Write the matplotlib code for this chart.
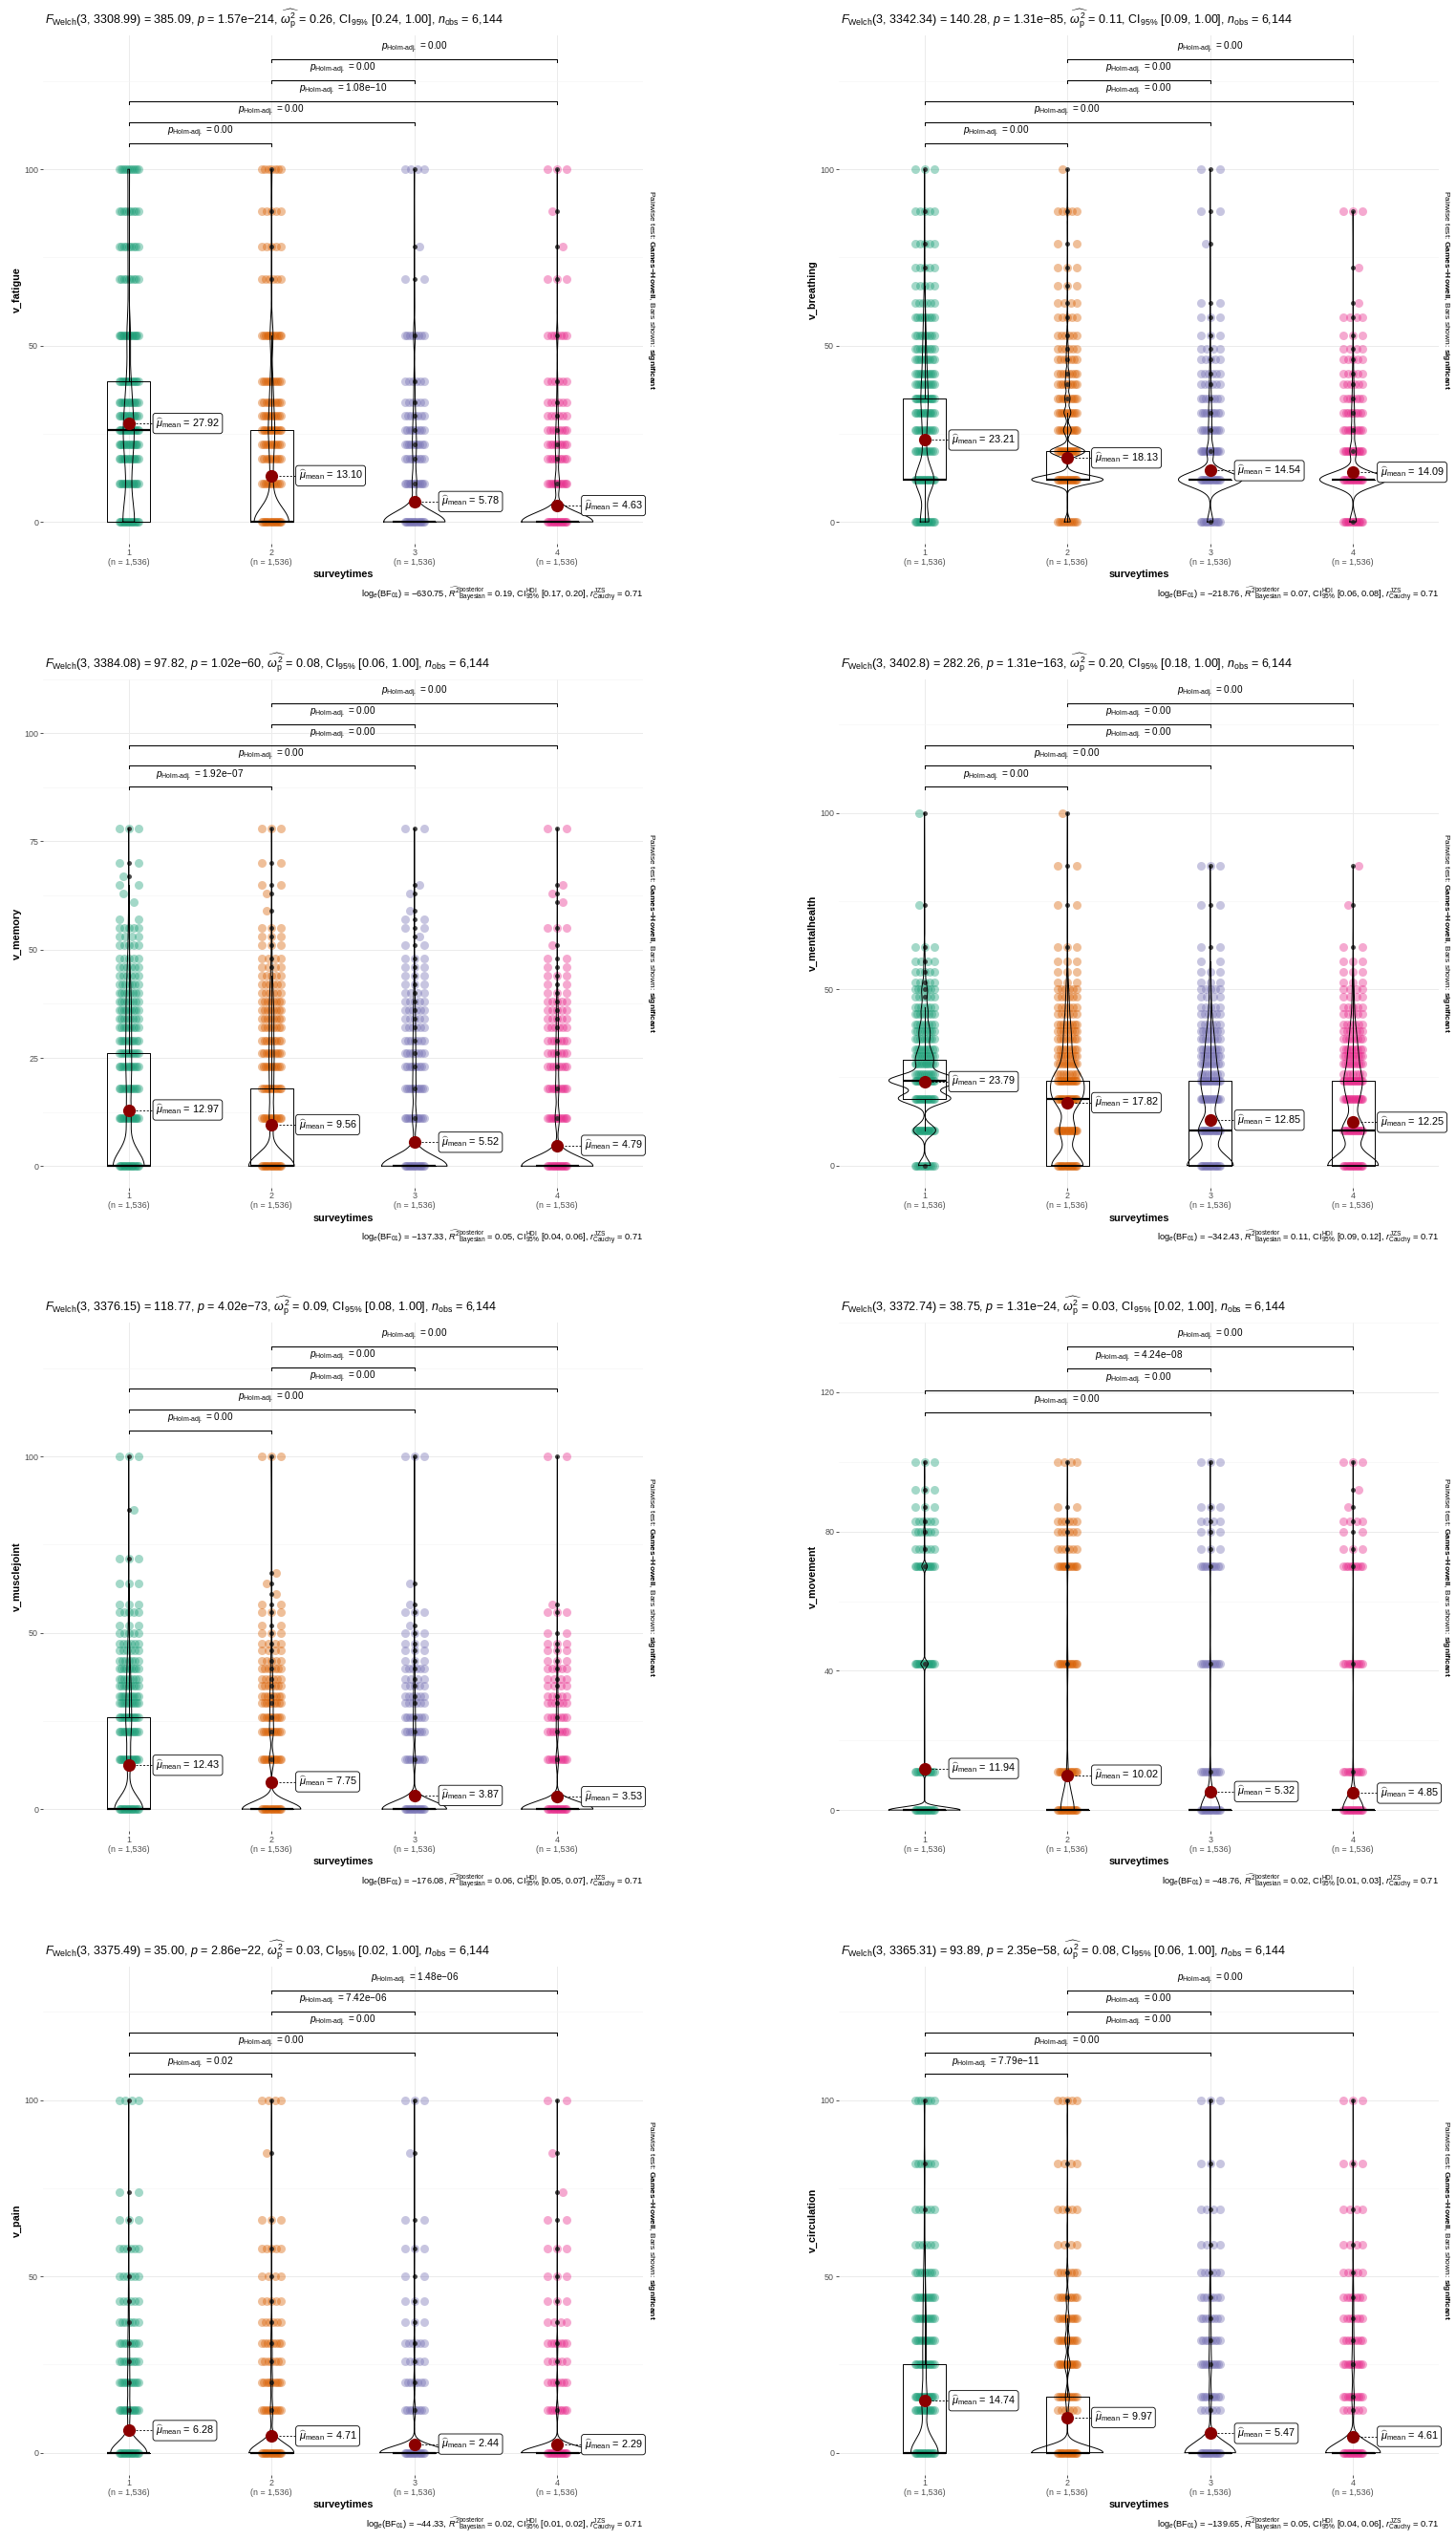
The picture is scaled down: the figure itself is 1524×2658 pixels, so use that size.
import numpy as np
import matplotlib
matplotlib.use('Agg')
import matplotlib.pyplot as plt
import matplotlib.transforms as mtransforms

# ---------------- data ----------------
groups = [1, 2, 3, 4]
group_n = ['1,536', '1,536', '1,536', '1,536']
colors = ['#1B9E77', '#D95F02', '#7570B3', '#E7298A']
pairs_all = [(1, 2), (1, 3), (1, 4), (2, 3), (2, 4)]
M = '\u2212'

fatigue_levels = [0, 11, 18, 22, 26, 30, 34, 40, 53, 69, 78, 88, 100]
fatigue_counts = [[421, 110, 100, 120, 170, 100, 90, 110, 130, 40, 45, 40, 60],
                  [946, 70, 50, 60, 90, 60, 50, 60, 80, 15, 10, 10, 25],
                  [1200, 90, 40, 50, 40, 25, 20, 20, 35, 2, 1, 0, 8],
                  [1260, 80, 40, 45, 30, 20, 15, 15, 25, 3, 1, 1, 5]]
fatigue_box = [(0, 26, 40, 0, 100), (0, 0, 26, 0, 53), (0, 0, 0, 0, 0), (0, 0, 0, 0, 0)]
fatigue_means = [27.92, 13.10, 5.78, 4.63]
fatigue_pvals = ['0.00', '0.00', '1.08e' + M + '10', '0.00', '0.00']
fatigue_welch = ['3308.99', '385.09', '1.57e' + M + '214', '0.26', '0.24']
fatigue_bayes = ['630.75', '0.19', '0.17', '0.20']

breathing_levels = [0, 12, 20, 26, 31, 35, 39, 42, 46, 49, 53, 58, 62, 67, 72, 79, 88, 100]
breathing_counts = [[250, 540, 80, 80, 90, 120, 70, 60, 50, 45, 40, 40, 20, 10, 10, 10, 10, 4],
                    [60, 740, 360, 80, 70, 55, 45, 35, 25, 20, 15, 12, 8, 3, 3, 2, 12, 1],
                    [100, 1110, 120, 60, 50, 30, 20, 15, 10, 8, 5, 4, 2, 0, 0, 1, 2, 2],
                    [110, 1120, 110, 55, 45, 28, 18, 14, 10, 8, 5, 6, 1, 0, 1, 0, 3, 0]]
breathing_box = [(12, 12, 35, 0, 67), (12, 12, 20, 0, 31), (12, 12, 12, 12, 12), (12, 12, 12, 12, 12)]
breathing_means = [23.21, 18.13, 14.54, 14.09]
breathing_pvals = ['0.00', '0.00', '0.00', '0.00', '0.00']
breathing_welch = ['3342.34', '140.28', '1.31e' + M + '85', '0.11', '0.09']
breathing_bayes = ['218.76', '0.07', '0.06', '0.08']

memory_levels = [0, 11, 18, 23, 26, 29, 32, 34, 36, 38, 40, 42, 44, 46, 48, 51, 53, 55, 57, 59,
                 61, 63, 65, 67, 70, 78]
memory_counts = [[850, 120, 80, 80, 60, 50, 40, 35, 40, 35, 30, 25, 20, 18, 12, 10, 8, 10, 2, 0, 1, 1, 2, 1, 2, 4],
                 [1000, 100, 80, 60, 50, 45, 30, 30, 35, 30, 20, 15, 12, 8, 6, 3, 4, 5, 0, 1, 0, 1, 2, 0, 2, 4],
                 [1230, 80, 60, 40, 30, 25, 20, 12, 15, 12, 6, 4, 4, 3, 3, 2, 1, 2, 2, 1, 0, 1, 1, 0, 0, 2],
                 [1260, 75, 55, 35, 28, 22, 18, 12, 14, 12, 3, 2, 4, 2, 2, 1, 0, 3, 0, 0, 1, 1, 1, 0, 0, 2]]
memory_box = [(0, 0, 26, 0, 65), (0, 0, 18, 0, 44), (0, 0, 0, 0, 0), (0, 0, 0, 0, 0)]
memory_means = [12.97, 9.56, 5.52, 4.79]
memory_pvals = ['1.92e' + M + '07', '0.00', '0.00', '0.00', '0.00']
memory_welch = ['3384.08', '97.82', '1.02e' + M + '60', '0.08', '0.06']
memory_bayes = ['137.33', '0.05', '0.04', '0.06']

mental_levels = [0, 10, 19, 24, 26, 29, 31, 33, 36, 38, 40, 43, 45, 48, 50, 52, 55, 58, 62, 74, 85, 100]
mental_counts = [[80, 150, 350, 450, 60, 80, 60, 50, 45, 40, 35, 30, 25, 20, 25, 10, 10, 8, 5, 1, 0, 1],
                 [400, 200, 300, 300, 30, 50, 40, 35, 35, 30, 30, 20, 15, 15, 15, 5, 5, 3, 3, 2, 2, 1],
                 [600, 300, 130, 170, 30, 50, 50, 45, 35, 30, 20, 15, 10, 8, 10, 3, 5, 2, 2, 2, 3, 0],
                 [640, 280, 120, 170, 28, 48, 48, 42, 32, 28, 18, 14, 10, 8, 9, 3, 4, 3, 2, 1, 1, 0]]
mental_box = [(19, 24, 30, 10, 45), (0, 19, 24, 0, 58), (0, 10, 24, 0, 58), (0, 10, 24, 0, 58)]
mental_means = [23.79, 17.82, 12.85, 12.25]
mental_pvals = ['0.00', '0.00', '0.00', '0.00', '0.00']
mental_welch = ['3402.8', '282.26', '1.31e' + M + '163', '0.20', '0.18']
mental_bayes = ['342.43', '0.11', '0.09', '0.12']

muscle_levels = [0, 14, 22, 26, 30, 32, 35, 37, 40, 42, 45, 47, 50, 52, 56, 58, 61, 64, 67, 71, 85, 100]
muscle_counts = [[900, 120, 100, 90, 60, 50, 40, 35, 40, 25, 20, 15, 10, 5, 10, 5, 0, 3, 0, 3, 1, 4],
                 [1160, 90, 70, 50, 40, 30, 25, 20, 25, 12, 8, 6, 5, 2, 4, 2, 1, 1, 1, 0, 0, 4],
                 [1320, 50, 40, 30, 20, 15, 10, 8, 15, 4, 3, 3, 3, 1, 3, 1, 0, 1, 0, 0, 0, 3],
                 [1340, 50, 35, 25, 18, 12, 8, 8, 14, 3, 3, 3, 2, 0, 3, 1, 0, 0, 0, 0, 0, 2]]
muscle_box = [(0, 0, 26, 0, 64), (0, 0, 0, 0, 0), (0, 0, 0, 0, 0), (0, 0, 0, 0, 0)]
muscle_means = [12.43, 7.75, 3.87, 3.53]
muscle_pvals = ['0.00', '0.00', '0.00', '0.00', '0.00']
muscle_welch = ['3376.15', '118.77', '4.02e' + M + '73', '0.09', '0.08']
muscle_bayes = ['176.08', '0.06', '0.05', '0.07']

movement_levels = [0, 11, 42, 70, 75, 80, 83, 87, 92, 100]
movement_counts = [[1160, 100, 120, 90, 20, 25, 20, 3, 4, 5],
                   [1200, 100, 100, 80, 15, 15, 15, 2, 0, 7],
                   [1320, 60, 60, 50, 5, 4, 6, 3, 0, 4],
                   [1340, 50, 55, 45, 5, 2, 6, 1, 1, 3]]
movement_box = [(0, 0, 0, 0, 0)] * 4
movement_means = [11.94, 10.02, 5.32, 4.85]
movement_pairs = [(1, 3), (1, 4), (2, 3), (2, 4)]
movement_pvals = ['0.00', '0.00', '4.24e' + M + '08', '0.00']
movement_welch = ['3372.74', '38.75', '1.31e' + M + '24', '0.03', '0.02']
movement_bayes = ['48.76', '0.02', '0.01', '0.03']

pain_levels = [0, 12, 20, 26, 31, 37, 43, 50, 58, 66, 74, 85, 100]
pain_counts = [[1200, 90, 70, 40, 45, 25, 20, 15, 15, 3, 2, 0, 8],
               [1280, 70, 50, 25, 35, 15, 12, 8, 10, 3, 0, 1, 7],
               [1400, 45, 25, 12, 20, 4, 5, 2, 5, 2, 0, 1, 3],
               [1410, 40, 22, 10, 22, 6, 3, 3, 4, 2, 1, 1, 2]]
pain_box = [(0, 0, 0, 0, 0)] * 4
pain_means = [6.28, 4.71, 2.44, 2.29]
pain_pvals = ['0.02', '0.00', '0.00', '7.42e' + M + '06', '1.48e' + M + '06']
pain_welch = ['3375.49', '35.00', '2.86e' + M + '22', '0.03', '0.02']
pain_bayes = ['44.33', '0.02', '0.01', '0.02']

circ_levels = [0, 12, 16, 25, 32, 38, 44, 51, 59, 69, 82, 100]
circ_counts = [[920, 90, 120, 100, 80, 70, 60, 40, 20, 20, 25, 25],
               [1130, 20, 60, 90, 70, 55, 40, 25, 8, 12, 8, 12],
               [1260, 15, 50, 60, 40, 30, 25, 15, 8, 6, 3, 5],
               [1290, 20, 50, 55, 35, 25, 25, 12, 6, 6, 3, 4]]
circ_box = [(0, 0, 25, 0, 59), (0, 0, 16, 0, 38), (0, 0, 0, 0, 0), (0, 0, 0, 0, 0)]
circ_means = [14.74, 9.97, 5.47, 4.61]
circ_pvals = ['7.79e' + M + '11', '0.00', '0.00', '0.00', '0.00']
circ_welch = ['3365.31', '93.89', '2.35e' + M + '58', '0.08', '0.06']
circ_bayes = ['139.65', '0.05', '0.04', '0.06']

std_brk = (0.7876, 0.04135)
panels = [
    dict(var='v_fatigue', levels=fatigue_levels, counts=fatigue_counts, box=fatigue_box,
         means=fatigue_means, pairs=pairs_all, pvals=fatigue_pvals, welch=fatigue_welch,
         bayes=fatigue_bayes, yticks=[0, 50, 100], ylim=(-6.2, 138.0), brk=std_brk),
    dict(var='v_breathing', levels=breathing_levels, counts=breathing_counts, box=breathing_box,
         means=breathing_means, pairs=pairs_all, pvals=breathing_pvals, welch=breathing_welch,
         bayes=breathing_bayes, yticks=[0, 50, 100], ylim=(-6.2, 138.0), brk=std_brk),
    dict(var='v_memory', levels=memory_levels, counts=memory_counts, box=memory_box,
         means=memory_means, pairs=pairs_all, pvals=memory_pvals, welch=memory_welch,
         bayes=memory_bayes, yticks=[0, 25, 50, 75, 100], ylim=(-4.9, 107.6), brk=std_brk),
    dict(var='v_mentalhealth', levels=mental_levels, counts=mental_counts, box=mental_box,
         means=mental_means, pairs=pairs_all, pvals=mental_pvals, welch=mental_welch,
         bayes=mental_bayes, yticks=[0, 50, 100], ylim=(-6.2, 138.0), brk=std_brk),
    dict(var='v_musclejoint', levels=muscle_levels, counts=muscle_counts, box=muscle_box,
         means=muscle_means, pairs=pairs_all, pvals=muscle_pvals, welch=muscle_welch,
         bayes=muscle_bayes, yticks=[0, 50, 100], ylim=(-6.2, 138.0), brk=std_brk),
    dict(var='v_movement', levels=movement_levels, counts=movement_counts, box=movement_box,
         means=movement_means, pairs=movement_pairs, pvals=movement_pvals, welch=movement_welch,
         bayes=movement_bayes, yticks=[0, 40, 80, 120], ylim=(-6.0, 131.5), brk=(0.8233, 0.0432)),
    dict(var='v_pain', levels=pain_levels, counts=pain_counts, box=pain_box,
         means=pain_means, pairs=pairs_all, pvals=pain_pvals, welch=pain_welch,
         bayes=pain_bayes, yticks=[0, 50, 100], ylim=(-6.2, 138.0), brk=std_brk),
    dict(var='v_circulation', levels=circ_levels, counts=circ_counts, box=circ_box,
         means=circ_means, pairs=pairs_all, pvals=circ_pvals, welch=circ_welch,
         bayes=circ_bayes, yticks=[0, 50, 100], ylim=(-6.2, 138.0), brk=std_brk),
]

# ---------------- fonts ----------------
FONT = 'Liberation Sans'
plt.rcParams['font.family'] = [FONT, 'DejaVu Sans']
plt.rcParams['mathtext.fontset'] = 'custom'
plt.rcParams['mathtext.rm'] = FONT
plt.rcParams['mathtext.it'] = FONT + ':italic'
plt.rcParams['mathtext.bf'] = FONT + ':bold'
plt.rcParams['mathtext.sf'] = FONT

W, H = 1524, 2658
ROW = 673.5
LEFTS = [45, 878]
AX_W = 628
TOP0, BOT0 = 37, 569


def bw_nrd0(x):
    hi = np.std(x, ddof=1)
    q25, q75 = np.percentile(x, [25, 75])
    lo = min(hi, (q75 - q25) / 1.34)
    if lo == 0:
        lo = hi
    return 0.9 * lo * len(x) ** -0.2


def violin_density(levels, counts):
    x = np.repeat(levels, counts)
    bw = bw_nrd0(x)
    grid = np.linspace(x.min(), x.max(), 512)
    kern = np.exp(-0.5 * ((grid[:, None] - levels[None, :]) / bw) ** 2)
    dens = kern @ counts / (counts.sum() * bw * np.sqrt(2 * np.pi))
    return grid, dens


def ftext(fig, x, y, s, **kw):
    fig.text(x / W, 1 - y / H, s, **kw)


def draw_panel(fig, p, row, col):
    left = LEFTS[col]
    top, bottom = TOP0 + row * ROW, BOT0 + row * ROW
    ax = fig.add_axes([left / W, 1 - bottom / H, AX_W / W, (bottom - top) / H])
    ax.set_xlim(0.4, 4.6)
    ax.set_ylim(*p['ylim'])
    for s in ax.spines.values():
        s.set_visible(False)

    yt = p['yticks']
    ax.set_yticks(yt)
    ax.set_yticklabels([str(v) for v in yt])
    step = yt[1] - yt[0]
    ax.set_yticks([v + step / 2 for v in yt], minor=True)
    ax.set_xticks(groups)
    ax.set_xticklabels([f'{g}\n(n = {n})' for g, n in zip(groups, group_n)], linespacing=1.1)
    ax.tick_params(which='major', length=2, width=0.6, color='#333333', labelcolor='#4D4D4D',
                   labelsize=6.4, pad=1.5)
    ax.tick_params(which='minor', length=0)
    ax.grid(which='major', color='#EBEBEB', lw=0.7, zorder=0)
    ax.grid(which='minor', axis='y', color='#F4F4F4', lw=0.45, zorder=0)
    ax.set_axisbelow(True)

    levels = np.array(p['levels'], float)
    cnts = [np.array(c, int) for c in p['counts']]

    # jittered points: more points on a level -> more overlapping markers
    for gi, g in enumerate(groups):
        xs, ys = [], []
        for li, (lv, c) in enumerate(zip(levels, cnts[gi])):
            if c <= 0:
                continue
            if c == 1:
                offs = np.array([0.035 if li % 2 == 0 else -0.035])
            else:
                m = int(np.clip(np.ceil(1.3 * np.sqrt(c)), 2, 16))
                offs = np.linspace(-0.068, 0.068, m)
            xs.extend(g + offs)
            ys.extend([lv] * len(offs))
        ax.scatter(xs, ys, s=42, color=colors[gi], alpha=0.4, lw=0, zorder=2)

    # boxplots
    stats = []
    for gi, b in enumerate(p['box']):
        fl = [lv for lv, c in zip(levels, cnts[gi]) if c > 0 and (lv > b[4] or lv < b[3])]
        stats.append(dict(q1=b[0], med=b[1], q3=b[2], whislo=b[3], whishi=b[4], fliers=fl))
    art = ax.bxp(stats, positions=groups, widths=0.3, showcaps=False, manage_ticks=False,
                 boxprops=dict(color='black', lw=0.7),
                 whiskerprops=dict(color='black', lw=0.7),
                 medianprops=dict(color='black', lw=1.6),
                 flierprops=dict(marker='o', markersize=3.6, markerfacecolor='#2b2b2b',
                                 markeredgecolor='none', alpha=0.85))
    for lines in art.values():
        for ln in lines:
            ln.set_zorder(3)

    # violins (area scaling shared in panel)
    dens_all = [violin_density(levels, c) for c in cnts]
    dmax = max(d.max() for _, d in dens_all)
    for g, (grid, d) in zip(groups, dens_all):
        hw = 0.25 * d / dmax
        vx = np.concatenate([g - hw, (g + hw)[::-1], [g - hw[0]]])
        vy = np.concatenate([grid, grid[::-1], [grid[0]]])
        ax.plot(vx, vy, color='black', lw=0.7, zorder=4)

    # means
    for g, m in zip(groups, p['means']):
        ax.scatter([g], [m], s=90, color='#8B0000', lw=0, zorder=6)
        ax.plot([g + 0.05, g + 0.165], [m, m], color='black', lw=0.6, ls=(0, (2.5, 2)), zorder=5)
        ax.text(g + 0.19, m, r'$\widehat{\mu}_{\mathrm{mean}}$' + f' = {m:.2f}', ha='left',
                va='center', fontsize=7.8, zorder=7,
                bbox=dict(boxstyle='round,pad=0.28,rounding_size=0.25', fc='white', ec='black', lw=0.6))

    # pairwise brackets
    trans = mtransforms.blended_transform_factory(ax.transData, ax.transAxes)
    base, stp = p['brk']
    tip = 3.0 / (bottom - top)
    order = sorted(range(len(p['pairs'])), key=lambda i: p['pairs'][i])
    for k, i in enumerate(order):
        a, b = p['pairs'][i]
        yb = base + k * stp
        ax.plot([a, a, b, b], [yb - tip, yb, yb, yb - tip], color='black', lw=0.75,
                transform=trans, clip_on=False, zorder=5)
        ax.annotate(r'$p_{\mathrm{Holm\text{-}adj.}}$' + ' = ' + p['pvals'][i], xy=((a + b) / 2, yb),
                    xycoords=trans, xytext=(0, 8.5), textcoords='offset points',
                    ha='center', va='center', fontsize=7.2)

    # texts around the panel
    w = p['welch']
    title = (r'$F_{\mathrm{Welch}}$' + f'(3, {w[0]}) = {w[1]}, ' + r'$p$' + f' = {w[2]}, '
             + r'$\widehat{\omega_{\mathrm{p}}^{2}}$' + f' = {w[3]}, CI' + r'$_{95\%}$'
             + f' [{w[4]}, 1.00], ' + r'$n_{\mathrm{obs}}$' + ' = 6,144')
    ftext(fig, left + 2, 20 + row * ROW, title, ha='left', va='center', fontsize=9.0)
    bz = p['bayes']
    cap = ('log' + r'$_{e}$' + '(BF' + r'$_{01}$' + f') = {M}{bz[0]}, '
           + r'$\widehat{R^{2}}_{\mathrm{Bayesian}}^{\mathrm{posterior}}$' + f' = {bz[1]}, CI'
           + r'$_{95\%}^{\mathrm{HDI}}$' + f' [{bz[2]}, {bz[3]}], '
           + r'$r_{\mathrm{Cauchy}}^{\mathrm{JZS}}$' + ' = 0.71')
    ftext(fig, left + AX_W, 622 + row * ROW, cap, ha='right', va='center', fontsize=6.7)
    ftext(fig, left + AX_W / 2, 601 + row * ROW, 'surveytimes', ha='center', va='center',
          fontsize=7.8, fontweight='bold')
    mid = (top + bottom) / 2
    ftext(fig, left - 27, mid, p['var'], ha='center', va='center', rotation=90,
          fontsize=7.8, fontweight='bold')
    strip = r'Pairwise test: $\mathbf{Games{-}Howell}$, Bars shown: $\mathbf{significant}$'
    ftext(fig, left + AX_W + 8, mid, strip, ha='center', va='center', rotation=270,
          fontsize=6.0)


fig = plt.figure(figsize=(W / 100, H / 100), dpi=100)
for idx, p in enumerate(panels):
    draw_panel(fig, p, idx // 2, idx % 2)
fig.savefig('out.png', dpi=100, facecolor='white')
